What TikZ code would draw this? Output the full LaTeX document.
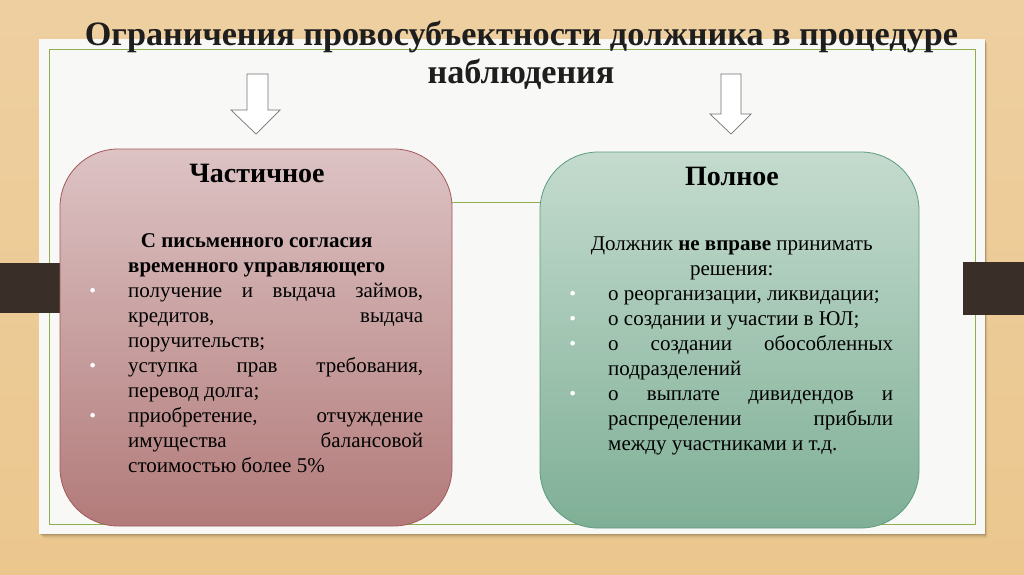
\documentclass[tikz,border=0pt]{standalone}
\usepackage{fontspec}
\setmainfont{Liberation Serif}
\usetikzlibrary{shadings}
\definecolor{woodtop}{HTML}{EECFA0}
\definecolor{woodbot}{HTML}{EBC78E}
\definecolor{paper}{HTML}{F8F8F7}
\definecolor{frameg}{HTML}{8FAE4E}
\definecolor{barc}{HTML}{3A2F28}
\definecolor{redtop}{HTML}{DDC3C4}
\definecolor{redbot}{HTML}{B27B7A}
\definecolor{redline}{HTML}{A5585A}
\definecolor{grtop}{HTML}{C4DBCE}
\definecolor{grbot}{HTML}{7FAF96}
\definecolor{grline}{HTML}{5E9C80}
\definecolor{titlec}{HTML}{1E1E1E}
\newcommand\bul{\tikz[baseline=0pt]\fill[white] (0pt,0pt) rectangle (0.01pt,0.01pt) (2.4pt,7pt) circle (2.3pt);}
\newcommand\bitem[2]{\makebox[38pt][l]{\bul}\makebox[#1][s]{#2}}
\newcommand\bitemr[1]{\makebox[38pt][l]{\bul}#1}
\newcommand\contline[2]{\hspace*{38pt}\makebox[#1][s]{#2}}
\newcommand\contlinel[1]{\hspace*{38pt}#1}
\begin{document}
\begin{tikzpicture}[x=1pt,y=-1pt,
  bigbox/.style={rounded corners=58pt, minimum width=#1, inner sep=0pt, line width=0.8pt},
  header/.style={font=\fontsize{28}{32}\selectfont\bfseries, anchor=base, inner sep=0pt, text=black},
  body/.style={font=\fontsize{21}{25}\selectfont, align=left, anchor=north west, inner sep=0pt, text=black},
  blockarrow/.style={fill=white, draw=black!55, line width=0.7pt, line join=miter},
  titlestyle/.style={font=\fontsize{34.2}{38}\selectfont\bfseries, anchor=base, inner sep=0pt, text=titlec}]
\useasboundingbox (0,0) rectangle (1024,574);
% wood background
\shade[top color=woodtop, bottom color=woodbot] (0,0) rectangle (1024,574);
% paper shadow
\foreach \d/\o in {1/0.10,2/0.07,3/0.05,4/0.03,5/0.02}{
  \fill[black, opacity=\o] (39+\d,39+\d) rectangle (985+\d*0.5,534+\d);
}
% paper
\fill[paper] (39,39) rectangle (985,534);
\draw[frameg, line width=1pt] (49,49) rectangle (975,524);
% dark bars
\fill[barc] (0,263) rectangle (60,313);
\fill[barc] (963,262) rectangle (1024,315);
% boxes
\node[bigbox=392pt, minimum height=377pt, draw=redline, top color=redtop, bottom color=redbot] (part) at (256,337.5) {};
\node[bigbox=379pt, minimum height=376pt, draw=grline, top color=grtop, bottom color=grbot] (full) at (729.5,340) {};
\coordinate (gy) at (0,202);
\draw[frameg, line width=1pt] (part.east |- gy) -- (full.west |- gy);
% title
\node[titlestyle] (t1) at (521.5,45) {Ограничения провосубъектности должника в процедуре};
\node[titlestyle] (t2) at (521,83) {наблюдения};
% block arrows
\draw[blockarrow] (247,74) -- (268,74) -- (268,110) -- (280,110) -- (256,134) -- (231,110) -- (247,110) -- cycle;
\draw[blockarrow] (721,74) -- (741,74) -- (741,114) -- (751,114) -- (731,134) -- (710,114) -- (721,114) -- cycle;
% headers
\node[header] (h1) at (257,182) {Частичное};
\node[header] (h2) at (732,185) {Полное};
% left body
\node[body] (b1) at (90,229.5) {%
\makebox[333pt][c]{\strut\bfseries С письменного согласия}\\
\makebox[333pt][c]{\bfseries временного управляющего}\\
\bitem{295pt}{получение и выдача займов,}\\
\contline{295pt}{кредитов, выдача}\\
\contlinel{поручительств;}\\
\bitem{295pt}{уступка прав требования,}\\
\contlinel{перевод долга;}\\
\bitem{295pt}{приобретение, отчуждение}\\
\contline{295pt}{имущества балансовой}\\
\contlinel{стоимостью более 5\%}};
% right body
\node[body] (b2) at (570,232.5) {%
\makebox[323pt][c]{\strut Должник \textbf{не вправе} принимать}\\
\makebox[323pt][c]{решения:}\\
\bitemr{о реорганизации, ликвидации;}\\
\bitemr{о создании и участии в ЮЛ;}\\
\bitem{285pt}{о создании обособленных}\\
\contlinel{подразделений}\\
\bitem{285pt}{о выплате дивидендов и}\\
\contline{285pt}{распределении прибыли}\\
\contlinel{между участниками и т.д.}};
\end{tikzpicture}
\end{document}
